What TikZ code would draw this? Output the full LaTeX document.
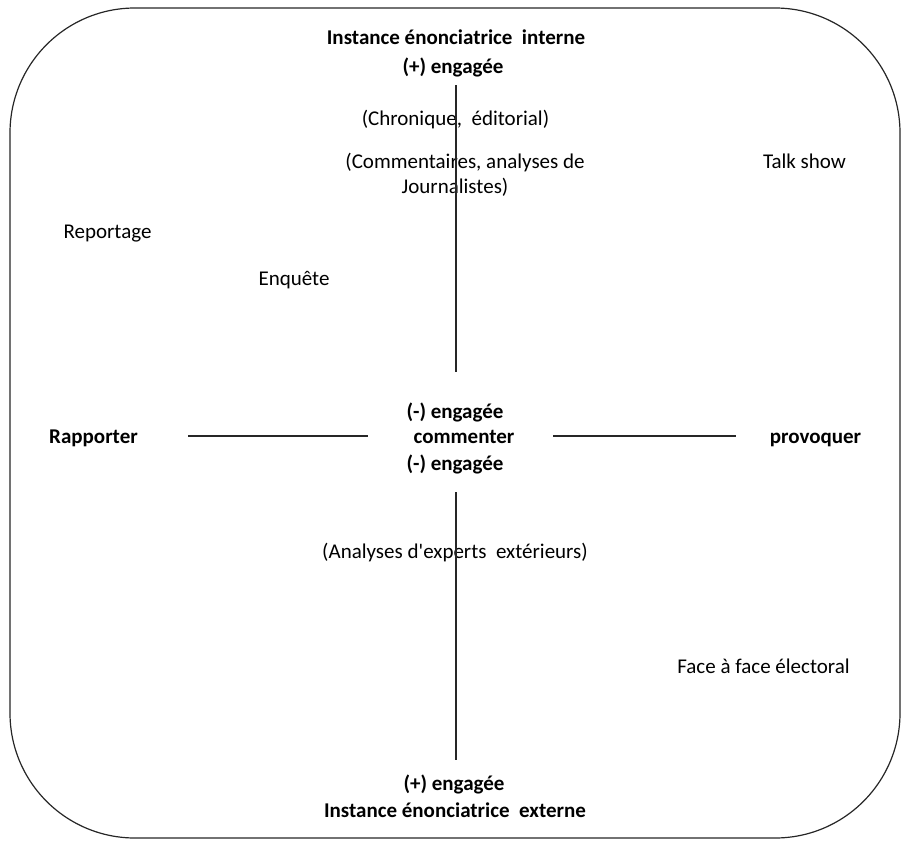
\documentclass[tikz,border=0pt]{standalone}
\usepackage{fontspec}
\newfontfamily\calib{Carlito}
\begin{document}
\begin{tikzpicture}[x=1pt,y=-1pt,
  every node/.style={inner sep=0pt, text height=14pt, text depth=4pt},
  rg/.style={font=\calib\fontsize{21}{25}\selectfont},
  bd/.style={font=\calib\bfseries\fontsize{21}{25}\selectfont},
  axis/.style={line width=1.3pt, draw=black!85},
  frame/.style={line width=1.2pt, draw=black!85, rounded corners=125pt}]
\useasboundingbox (0,0) rectangle (902,843);
\draw[frame] (10,8) rectangle (900,838);
% top
\node[bd] (t1) at (456,40) {Instance énonciatrice\ \ interne};
\node[bd] (t2) at (453,69) {(+) engagée};
\node[rg] (chron) at (455.5,120) {(Chronique,\ \ éditorial)};
\node[rg] (comm1) at (465,163) {(Commentaires, analyses de};
\node[rg] (comm2) at (455,188) {Journalistes)};
\node[rg] (talk) at (804.5,163) {Talk show};
\node[rg] (rep) at (107.5,233) {Reportage};
\node[rg] (enq) at (294,280) {Enquête};
% centre
\node[bd] (c1) at (455,413) {(-) engagée};
\node[bd] (c2) at (464,438) {commenter};
\node[bd] (c3) at (455,465) {(-) engagée};
\node[bd] (rap) at (93.5,438) {Rapporter};
\node[bd] (prov) at (815.5,438) {provoquer};
% bottom
\node[rg] (anal) at (455,553) {(Analyses d'experts\ \ extérieurs)};
\node[rg] (face) at (763.5,668) {Face à face électoral};
\node[bd] (b1) at (454,785) {(+) engagée};
\node[bd] (b2) at (455,812) {Instance énonciatrice\ \ externe};
% axis ends
\coordinate (vtA) at (456,85);
\coordinate (vtB) at (456,372);
\coordinate (vbA) at (456,492);
\coordinate (vbB) at (456,760);
\coordinate (hlA) at (188,436);
\coordinate (hlB) at (368,436);
\coordinate (hrA) at (553,436);
\coordinate (hrB) at (736,436);
\draw[axis] (vtA) -- (vtB);
\draw[axis] (vbA) -- (vbB);
\draw[axis] (hlA) -- (hlB);
\draw[axis] (hrA) -- (hrB);
\end{tikzpicture}
\end{document}
